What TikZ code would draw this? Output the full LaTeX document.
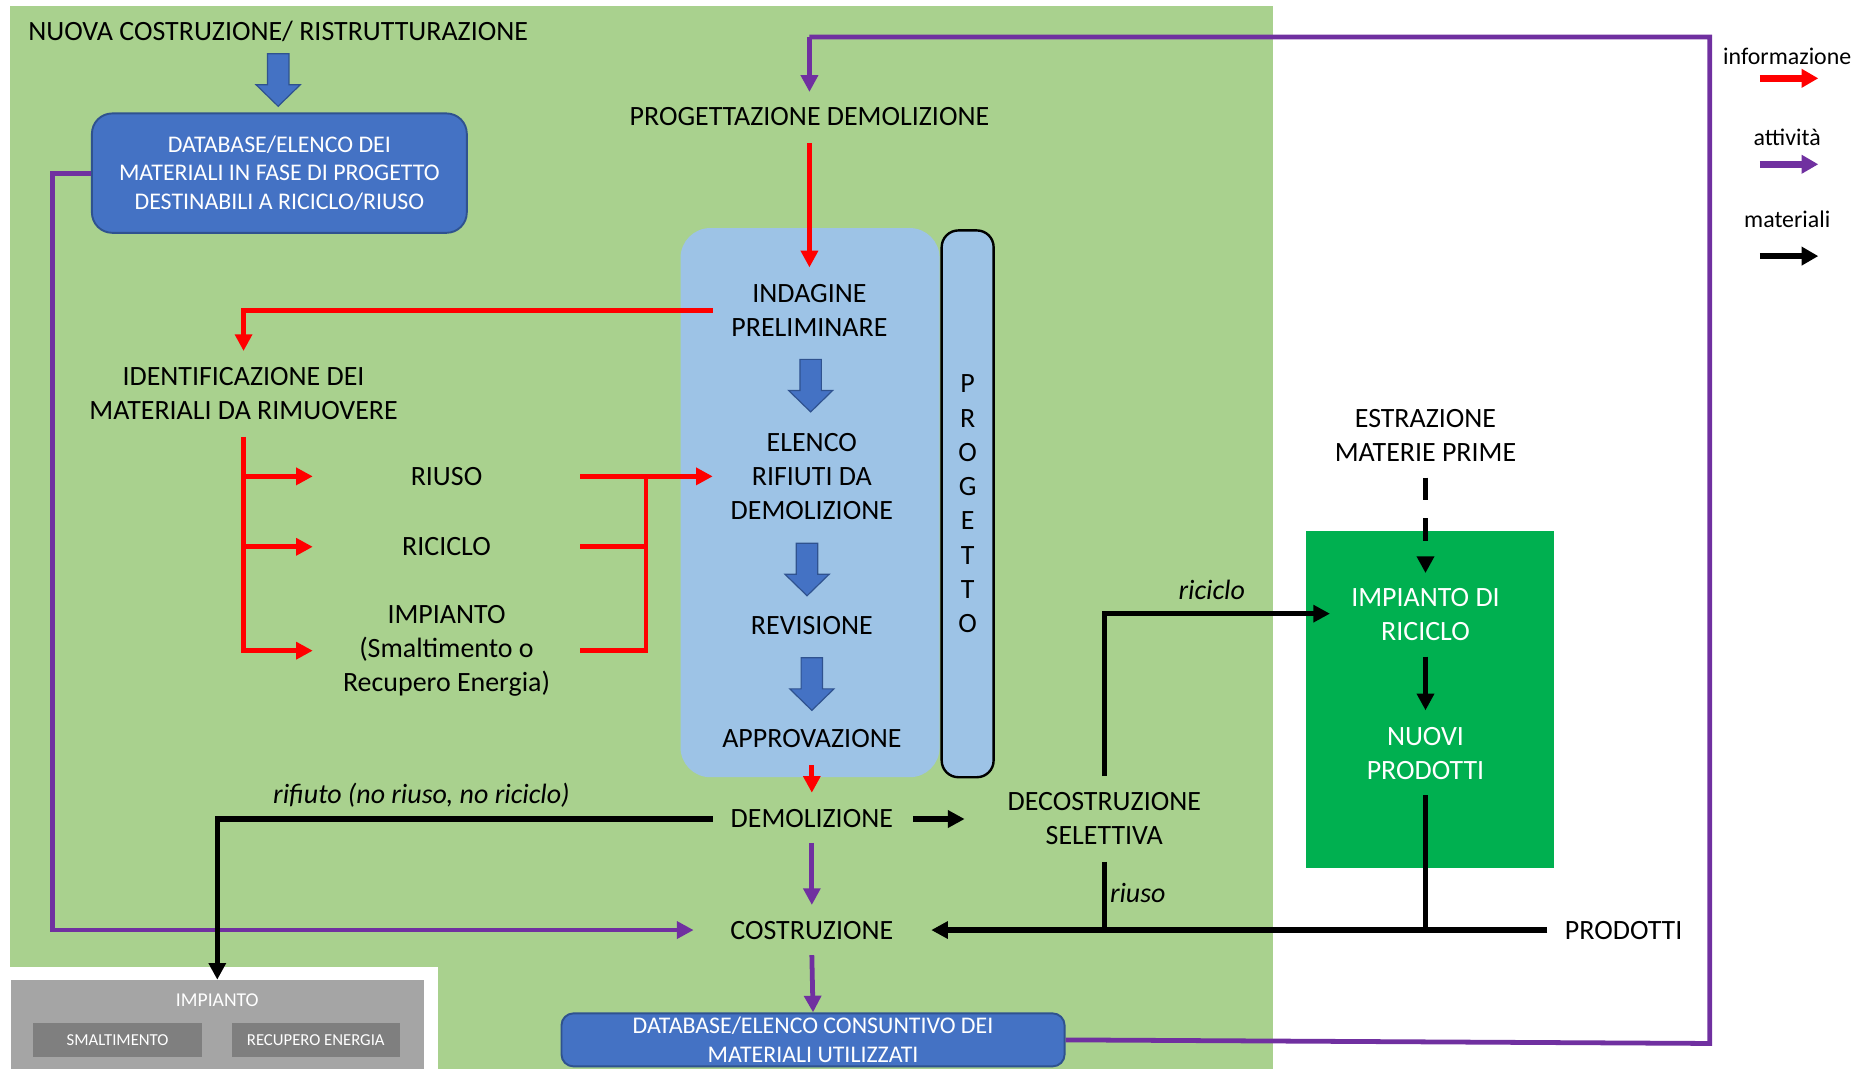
\documentclass[tikz,border=0pt]{standalone}
\usepackage{fontspec}
\setmainfont{Carlito}
\usetikzlibrary{arrows.meta,calc}
\definecolor{bggreen}{HTML}{A9D18E}
\definecolor{lblue}{HTML}{9DC3E6}
\definecolor{dbblue}{HTML}{4472C4}
\definecolor{dbborder}{HTML}{2F528F}
\definecolor{dgreen}{HTML}{00B050}
\definecolor{purp}{HTML}{7030A0}
\definecolor{infored}{HTML}{FF0000}
\definecolor{gbox}{HTML}{A5A5A5}
\definecolor{gboxd}{HTML}{7F7F7F}
\begin{document}
\begin{tikzpicture}[x=0.5pt,y=-0.5pt,
  txt/.style={font=\fontsize{11.7}{14.25}\selectfont, align=center, inner sep=0pt},
  wtxt/.style={txt, text=white},
  itx/.style={font=\fontsize{11.7}{14}\selectfont\itshape, inner sep=0pt},
  legtxt/.style={font=\fontsize{10}{12}\selectfont, inner sep=0pt},
  dbbox/.style={draw=dbborder, line width=0.8pt, fill=dbblue, text=white, align=center,
     font=\fontsize{10}{12}\selectfont},
  tip/.style={-{Triangle[length=7pt,width=7pt]}},
  infoline/.style={draw=infored, line width=2pt},
  infoarrow/.style={infoline, tip},
  actline/.style={draw=purp, line width=2pt},
  actarrow/.style={actline, tip},
  matline/.style={draw=black, line width=2.2pt},
  matarrow/.style={matline, tip},
  legarrow/.style={line width=2.8pt, -{Triangle[length=7pt,width=7.5pt]}},
  barrow/.pic={\filldraw[fill=dbblue, draw=dbborder, line width=0.5pt]
     (-9,0) -- (9,0) -- (9,26) -- (18.5,26) -- (0,44) -- (-18.5,26) -- (-9,26) -- cycle;}
]
\useasboundingbox (0,0) rectangle (1568,895);
% backgrounds
\fill[bggreen] (8,5) rectangle (1066,895);
\fill[white] (0,810) rectangle (367,895);
\fill[lblue, rounded corners=12.5pt] (570,191) rectangle (787,651);
\fill[dgreen] (1094,445) rectangle (1302,727);

% nodes
\node[txt] (nuova) at (233,26) {NUOVA COSTRUZIONE/ RISTRUTTURAZIONE};
\node[dbbox, rounded corners=8.5pt, minimum width=157pt, minimum height=50pt, inner sep=1pt] (db1) at (234,145)
  {DATABASE/ELENCO DEI\\MATERIALI IN FASE DI PROGETTO\\DESTINABILI A RICICLO/RIUSO};
\node[txt] (prog) at (678,98) {PROGETTAZIONE DEMOLIZIONE};
\node[txt] (indag) at (678,260) {INDAGINE\\PRELIMINARE};
\node[txt] (elenco) at (680,399) {ELENCO\\RIFIUTI DA\\DEMOLIZIONE};
\node[txt] (revis) at (680,524) {REVISIONE};
\node[txt] (approv) at (680,619) {APPROVAZIONE};
\node[draw=black, line width=1pt, fill=lblue, rounded corners=7pt, minimum width=21.75pt,
  minimum height=229pt, inner sep=0pt, align=center, font=\fontsize{11.7}{14.35}\selectfont]
  (progetto) at (810.5,422) {P\\R\\O\\G\\E\\T\\T\\O};
\node[txt] (ident) at (204,330) {IDENTIFICAZIONE DEI\\MATERIALI DA RIMUOVERE};
\node[txt] (riuso) at (374,399) {RIUSO};
\node[txt] (riciclo) at (374,458) {RICICLO};
\node[txt] (impianto) at (374,545) {IMPIANTO\\(Smaltimento o\\Recupero Energia)};
\node[txt] (demol) at (680,686) {DEMOLIZIONE};
\node[txt] (costr) at (680,779) {COSTRUZIONE};
\node[txt] (decostr) at (925,686) {DECOSTRUZIONE\\SELETTIVA};
\node[dbbox, rounded corners=5pt, minimum width=210.7pt, minimum height=22.2pt, inner sep=0.5pt] (db2) at (681,871)
  {DATABASE/ELENCO CONSUNTIVO DEI\\MATERIALI UTILIZZATI};
\node[txt] (estr) at (1194,365) {ESTRAZIONE\\MATERIE PRIME};
\node[wtxt] (impric) at (1194,515) {IMPIANTO DI\\RICICLO};
\node[wtxt] (nuovi) at (1194,631) {NUOVI\\PRODOTTI};
\node[txt] (prodotti) at (1360,779) {PRODOTTI};
\node[itx] (lrifiuto) at (353,666) {rifiuto (no riuso, no riciclo)};
\node[itx] (lriciclo) at (1015,494) {riciclo};
\node[itx] (lriuso) at (953,748) {riuso};
% gray plant box
\node[fill=gbox, minimum width=173pt, minimum height=37pt, inner sep=0pt] (impgray) at (182,858) {};
\node[text=white, font=\fontsize{8.2}{10}\selectfont, inner sep=0pt] (impgraytxt) at (182,838) {IMPIANTO};
\node[fill=gboxd, text=white, minimum width=70.5pt, minimum height=14pt, inner sep=0pt,
  font=\fontsize{7}{8}\selectfont] (smalt) at (98.5,871) {SMALTIMENTO};
\node[fill=gboxd, text=white, minimum width=70.5pt, minimum height=14pt, inner sep=0pt,
  font=\fontsize{7}{8}\selectfont] (recup) at (264.5,871) {RECUPERO ENERGIA};
% legend
\node[legtxt] (leginfo) at (1497,47) {informazione};
\node[legtxt] (legatt) at (1497,115) {attività};
\node[legtxt] (legmat) at (1497,184) {materiali};

% block arrows
\pic at (233,45) {barrow};
\pic at (679,301) {barrow};
\pic at (676,455) {barrow};
\pic at (680,551) {barrow};

% activity (purple)
\draw[actarrow] (db1.west) -- ++(-32,0) |- ($(costr)+(-99,0)$);
\draw[actline] (db2.east) -- (1432,874) -- (1432,31) -- (678,31);
\draw[actarrow] (678,31) -- ($(prog)+(0,-21)$);
\draw[actarrow] ($(demol)+(0,20)$) -- ($(costr)+(0,-21)$);
\draw[actarrow] ($(costr)+(0,21)$) -- (db2.north);

% information (red)
\draw[infoarrow] ($(prog)+(0,22)$) -- ($(indag)+(0,-36)$);
\draw[infoarrow] ($(indag)+(-81,0)$) -| ($(ident)+(0,-36)$);
\draw[infoarrow] ($(ident)+(0,36)$) |- ($(impianto)+(-112,0)$);
\draw[infoarrow] (ident |- riuso) -- ($(riuso)+(-112,0)$);
\draw[infoarrow] (ident |- riciclo) -- ($(riciclo)+(-112,0)$);
\draw[infoline] ($(riuso)+(112,0)$) -- ++(56,0);
\draw[infoline] ($(riciclo)+(112,0)$) -- ++(56,0);
\draw[infoarrow] ($(impianto)+(112,0)$) -| ($(riuso)+(167,0)$) -- ($(elenco)+(-83,0)$);
\draw[infoarrow] ($(approv)+(0,22)$) -- ($(demol)+(0,-22)$);

% materials (black)
\draw[matarrow] ($(demol)+(-83,0)$) -| (impgray.north);
\draw[matarrow] ($(demol)+(85,0)$) -- ($(decostr)+(-117,0)$);
\draw[matarrow] ($(decostr)+(0,-36)$) |- ($(impric)+(-80,-1)$);
\draw[matline] ($(decostr)+(0,36)$) -- (decostr |- costr);
\draw[matline] ($(nuovi)+(0,35)$) -- (nuovi |- costr);
\draw[matarrow] ($(prodotti)+(-64,0)$) -- ($(costr)+(100,0)$);
\draw[matarrow, dash pattern=on 9.5pt off 7.5pt] ($(estr)+(0,35)$) -- ($(impric)+(0,-35)$);
\draw[matarrow] ($(impric)+(0,35)$) -- ($(nuovi)+(0,-36)$);

% legend arrows
\draw[legarrow, infored] ($(leginfo)+(-23,18.6)$) -- ++(49,0);
\draw[legarrow, purp] ($(legatt)+(-23,22.6)$) -- ++(49,0);
\draw[legarrow, black] ($(legmat)+(-23,30.5)$) -- ++(49,0);
\end{tikzpicture}
\end{document}
